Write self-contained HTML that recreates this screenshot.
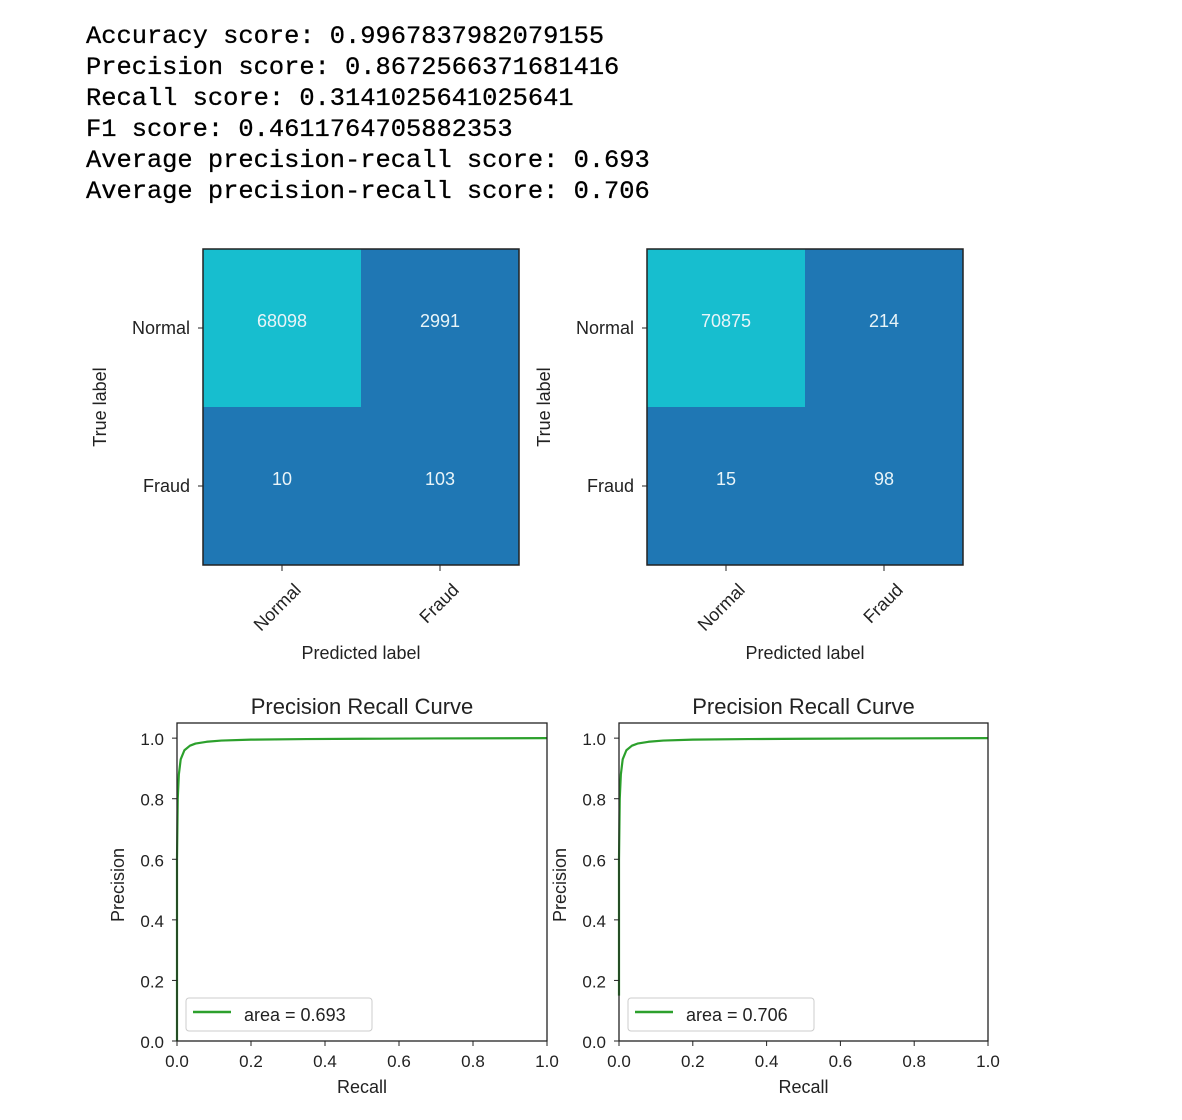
<!DOCTYPE html>
<html><head><meta charset="utf-8">
<style>
body{margin:0;background:#fff;width:1182px;height:1120px;overflow:hidden;position:relative;font-family:"Liberation Sans",sans-serif}
#out{position:absolute;left:86px;top:21px;font-family:"Liberation Mono",monospace;font-size:25.4px;line-height:31px;color:#000;white-space:pre;-webkit-text-stroke:0.3px #000}
svg{position:absolute;left:0;top:0}
</style></head><body>
<div id="out">Accuracy score: 0.9967837982079155
Precision score: 0.8672566371681416
Recall score: 0.3141025641025641
F1 score: 0.4611764705882353
Average precision-recall score: 0.693
Average precision-recall score: 0.706</div>
<svg id="svg" width="1182" height="1120"></svg>
<script>
const classes=["Normal","Fraud"];
const cm1=[[68098,2991],[10,103]];
const cm2=[[70875,214],[15,98]];
const recall1=[0,0,0.002,0.005,0.01,0.02,0.035,0.05,0.08,0.12,0.2,0.35,0.5,0.7,1.0];
const precision1=[0,0.6,0.8,0.88,0.93,0.96,0.975,0.982,0.988,0.992,0.995,0.997,0.998,0.999,1.0];
const recall2=[0,0,0.002,0.005,0.01,0.02,0.035,0.05,0.08,0.12,0.2,0.35,0.5,0.7,1.0];
const precision2=[0.15,0.6,0.8,0.88,0.93,0.96,0.975,0.982,0.988,0.992,0.995,0.997,0.998,0.999,1.0];
const yTicks=[0,0.2,0.4,0.6,0.8,1.0];
const xTicks=[0,0.2,0.4,0.6,0.8,1.0];
const areas=["0.693","0.706"];

const svg=document.getElementById('svg');
const NS="http://www.w3.org/2000/svg";
function mk(tag,attrs,text){const e=document.createElementNS(NS,tag);for(const k in attrs)e.setAttribute(k,attrs[k]);if(text!==undefined)e.textContent=text;svg.appendChild(e);return e;}

function drawCM(x0,y0,size,m,idx){
  const n=classes.length,cell=size/n;
  const mx=Math.max(...m.flat());
  for(let i=0;i<n;i++)for(let j=0;j<n;j++){
    const v=m[i][j];
    const r=mk('rect',{x:x0+j*cell,y:y0+i*cell,width:cell,height:cell,fill:v>mx/2?'#17becf':'#1f77b4'});
    
    
    const t=mk('text',{x:x0+j*cell+cell/2,y:y0+i*cell+cell/2-1,'text-anchor':'middle','font-size':'18',fill:'#e8f4f8'},String(v));
    
    
  }
  const b=mk('rect',{x:x0,y:y0,width:size,height:size,fill:'none',stroke:'#222','stroke-width':1.5});
  
  
  for(let i=0;i<n;i++){
    const cy=y0+i*cell+cell/2;
    mk('line',{x1:x0-5,x2:x0,y1:cy,y2:cy,stroke:'#222'});
    const yl=mk('text',{x:x0-13,y:cy+6,'text-anchor':'end','font-size':'18',fill:'#222'},classes[i]);
    
    
    const cx=x0+i*cell+cell/2;
    mk('line',{x1:cx,x2:cx,y1:y0+size,y2:y0+size+6,stroke:'#222'});
    const ax=cx+20,ay=y0+size+26;
    const xl=mk('text',{x:ax,y:ay,'text-anchor':'end','font-size':'18',fill:'#222',transform:`rotate(-45 ${ax} ${ay})`},classes[i]);
    
    
  }
  const xt=mk('text',{x:x0+size/2,y:y0+size+94,'text-anchor':'middle','font-size':'18',fill:'#222'},'Predicted label');
  
  
  const yx=x0-97,yy=y0+size/2;
  const yt=mk('text',{x:yx,y:yy,'text-anchor':'middle','font-size':'18',fill:'#222',transform:`rotate(-90 ${yx} ${yy})`},'True label');
  
  
}

function drawPR(x0,x1,rec,prec,idx){
  const yTop=723,yBot=1041;
  const sx=v=>x0+v*(x1-x0);
  const sy=v=>yBot-v/1.05*(yBot-yTop);
  const t=mk('text',{x:(x0+x1)/2,y:yTop-9,'text-anchor':'middle','font-size':'22',fill:'#222'},'Precision Recall Curve');
  
  
  const d=rec.map((r,i)=>(i?'L':'M')+sx(r).toFixed(2)+' '+sy(prec[i]).toFixed(2)).join(' ');
  const p=mk('path',{d:d,fill:'none',stroke:'#2ca02c','stroke-width':2.2,'stroke-linejoin':'round'});
  
  
  const f=mk('rect',{x:x0,y:yTop,width:x1-x0,height:yBot-yTop,fill:'none',stroke:'#222','stroke-width':1.3});
  
  
  yTicks.forEach(v=>{
    const y=sy(v);
    mk('line',{x1:x0-5,x2:x0,y1:y,y2:y,stroke:'#222'});
    const l=mk('text',{x:x0-13,y:y+7,'text-anchor':'end','font-size':'17',fill:'#222'},v.toFixed(1));
    
    
  });
  xTicks.forEach(v=>{
    const x=sx(v);
    mk('line',{x1:x,x2:x,y1:yBot,y2:yBot+5,stroke:'#222'});
    const l=mk('text',{x:x,y:yBot+26,'text-anchor':'middle','font-size':'17',fill:'#222'},v.toFixed(1));
    
    
  });
  const xt=mk('text',{x:(x0+x1)/2,y:yBot+52,'text-anchor':'middle','font-size':'18',fill:'#222'},'Recall');
  
  
  const yx=x0-53,yy=885;
  const yt=mk('text',{x:yx,y:yy,'text-anchor':'middle','font-size':'18',fill:'#222',transform:`rotate(-90 ${yx} ${yy})`},'Precision');
  
  
  const lg=mk('rect',{x:x0+9,y:998,width:186,height:33,rx:3,fill:'#fff',stroke:'#ccc'});
  
  
  mk('line',{x1:x0+16,x2:x0+54,y1:1012,y2:1012,stroke:'#2ca02c','stroke-width':2.5});
  const lt=mk('text',{x:x0+67,y:1021,'font-size':'18',fill:'#222'},'area = '+areas[idx-1]);
  
  
}

drawCM(203,249,316,cm1,1);
drawCM(647,249,316,cm2,2);
drawPR(177,547,recall1,precision1,1);
drawPR(619,988,recall2,precision2,2);
</script>
</body></html>
